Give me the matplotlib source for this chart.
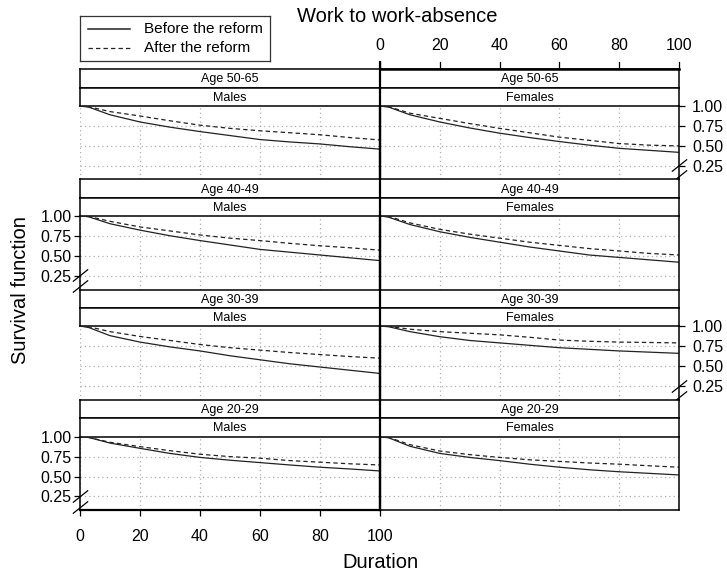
import matplotlib
matplotlib.use("Agg")
import matplotlib.pyplot as plt
from matplotlib.path import Path

plt.rcParams['font.family'] = ['Liberation Sans', 'DejaVu Sans']

# ---------------- data ----------------
durations = [0, 3, 10, 20, 30, 40, 50, 60, 70, 80, 90, 100]
age_groups = ["Age 50-65", "Age 40-49", "Age 30-39", "Age 20-29"]
sexes = ["Males", "Females"]
legend_labels = ["Before the reform", "After the reform"]
y_ticks = [0.25, 0.50, 0.75, 1.00]
x_ticks = [0, 20, 40, 60, 80, 100]

m5065_before = [1.00, 0.985, 0.89, 0.80, 0.735, 0.68, 0.63, 0.58, 0.55, 0.525, 0.49, 0.46]
m5065_after  = [1.00, 0.99, 0.93, 0.875, 0.815, 0.76, 0.72, 0.69, 0.665, 0.64, 0.605, 0.575]
f5065_before = [1.00, 0.985, 0.89, 0.80, 0.725, 0.66, 0.605, 0.555, 0.51, 0.47, 0.445, 0.42]
f5065_after  = [1.00, 0.99, 0.91, 0.845, 0.78, 0.72, 0.665, 0.61, 0.57, 0.53, 0.51, 0.50]
m4049_before = [1.00, 0.985, 0.90, 0.82, 0.75, 0.69, 0.635, 0.58, 0.545, 0.51, 0.475, 0.44]
m4049_after  = [1.00, 0.99, 0.93, 0.86, 0.81, 0.76, 0.72, 0.69, 0.655, 0.625, 0.60, 0.57]
f4049_before = [1.00, 0.98, 0.89, 0.80, 0.73, 0.67, 0.61, 0.56, 0.51, 0.48, 0.45, 0.42]
f4049_after  = [1.00, 0.99, 0.91, 0.83, 0.77, 0.72, 0.67, 0.63, 0.59, 0.56, 0.53, 0.51]
m3039_before = [1.00, 0.98, 0.88, 0.80, 0.74, 0.69, 0.63, 0.58, 0.53, 0.49, 0.45, 0.41]
m3039_after  = [1.00, 0.99, 0.93, 0.87, 0.82, 0.77, 0.73, 0.70, 0.67, 0.645, 0.62, 0.60]
f3039_before = [1.00, 0.99, 0.93, 0.867, 0.82, 0.79, 0.76, 0.73, 0.71, 0.69, 0.675, 0.66]
f3039_after  = [1.00, 0.995, 0.96, 0.93, 0.91, 0.89, 0.86, 0.825, 0.81, 0.80, 0.795, 0.79]
m2029_before = [1.00, 0.99, 0.92, 0.854, 0.79, 0.74, 0.705, 0.675, 0.645, 0.617, 0.595, 0.57]
m2029_after  = [1.00, 0.99, 0.93, 0.875, 0.825, 0.78, 0.75, 0.73, 0.70, 0.68, 0.66, 0.645]
f2029_before = [1.00, 0.985, 0.88, 0.79, 0.74, 0.70, 0.655, 0.617, 0.585, 0.56, 0.54, 0.52]
f2029_after  = [1.00, 0.99, 0.90, 0.82, 0.775, 0.74, 0.71, 0.69, 0.67, 0.655, 0.635, 0.617]

panel_data = [
    [(m5065_before, m5065_after), (f5065_before, f5065_after)],
    [(m4049_before, m4049_after), (f4049_before, f4049_after)],
    [(m3039_before, m3039_after), (f3039_before, f3039_after)],
    [(m2029_before, m2029_after), (f2029_before, f2029_after)],
]

# ---------------- layout (pixels) ----------------
W, H = 727, 574
fig = plt.figure(figsize=(W / 100, H / 100), dpi=100)

def px_axes(x0, y0, x1, y1):
    return fig.add_axes([x0 / W, 1 - y1 / H, (x1 - x0) / W, (y1 - y0) / H])

col_x = [(80, 380), (380, 679)]
strip_top = [69, 179.5, 289.5, 400]
strip_mid = [87.5, 197.7, 307.7, 418]
plot_top = [106, 215.7, 326, 436.7]
plot_bot = [179.5, 289.5, 400, 510]

TICK_FS = 11.5
STRIP_FS = 9
TITLE_FS = 14.5

YLIM = (0.08, 1.0)
grid_kw = dict(color='#b0b0b0', linestyle=(0, (1, 2.5)), linewidth=0.9)
brk = Path([(-1, -0.8), (1, 0.8)], [Path.MOVETO, Path.LINETO])

def strip(x0, x1, y0, y1, label):
    a = px_axes(x0, y0, x1, y1)
    a.set_xticks([]); a.set_yticks([])
    a.set_facecolor('white')
    for s in a.spines.values():
        s.set_linewidth(1.1)
        s.set_color('black')
    a.text(0.5, 0.45, label, ha='center', va='center', fontsize=STRIP_FS, transform=a.transAxes)
    return a

for r in range(4):
    for c in range(2):
        x0, x1 = col_x[c]
        strip(x0, x1, strip_top[r], strip_mid[r], age_groups[r])
        strip(x0, x1, strip_mid[r], plot_top[r], sexes[c])

        ax = px_axes(x0, plot_top[r], x1, plot_bot[r])
        ax.set_xlim(0, 100)
        ax.set_ylim(*YLIM)
        ax.set_facecolor('none')
        for xv in [0, 20, 40, 60, 80, 100]:
            ax.axvline(xv, **grid_kw, zorder=0)
        for yv in [0.25, 0.5, 0.75]:
            ax.axhline(yv, **grid_kw, zorder=0)

        before, after = panel_data[r][c]
        ax.plot(durations, before, color='#222222', lw=0.9, solid_joinstyle='round')
        ax.plot(durations, after, color='#222222', lw=0.9, linestyle=(0, (3.5, 2.5)))

        for s in ax.spines.values():
            s.set_linewidth(1.1)
            s.set_color('black')
        ax.spines['top'].set_visible(False)
        ax.spines['bottom'].set_visible(r == 3)
        ax.spines['bottom'].set_linewidth(1.6 if c == 0 else 1.1)

        has_y_left = (c == 0 and r in (1, 3))
        has_y_right = (c == 1 and r in (0, 2))
        ax.spines['left'].set_visible(c == 1 or has_y_left)
        ax.spines['left'].set_linewidth(1.6 if c == 1 else 1.1)
        ax.spines['right'].set_visible(c == 0 or has_y_right or r in (1, 3))

        ax.tick_params(axis='both', direction='out', length=4.5, width=0.9,
                       labelsize=TICK_FS, colors='black')
        # y axis
        if has_y_left or has_y_right:
            ax.set_yticks(y_ticks)
            ax.set_yticklabels([f"{v:.2f}" for v in y_ticks])
            if has_y_right:
                ax.yaxis.tick_right()
                ax.tick_params(axis='y', pad=5)
                xb = 1.0
            else:
                ax.tick_params(axis='y', pad=1.5)
                xb = 0.0
            for yb in (0.26, 0.12):
                ax.plot([xb], [yb], marker=brk, markersize=11, mew=0.9, color='black',
                        transform=ax.get_yaxis_transform(), clip_on=False, zorder=5)
        else:
            ax.set_yticks([])
        # x axis
        if r == 3 and c == 0:
            ax.set_xticks(x_ticks)
            ax.tick_params(axis='x', pad=9)
        elif r == 0 and c == 1:
            ax.set_xticks([])
            for xv in x_ticks:
                xp = x0 + (x1 - x0) * xv / 100
                fig.add_artist(plt.Line2D([xp / W, xp / W], [1 - 69 / H, 1 - 62 / H],
                                          color='black', lw=0.9))
                fig.text(xp / W, 1 - 45 / H, str(xv), ha='center', va='center', fontsize=TICK_FS)
        else:
            ax.set_xticks([])

# top border line thicker for right strip
fig.add_artist(plt.Line2D([380 / W, 679 / W], [1 - 69 / H, 1 - 69 / H], color='black', lw=1.8))
# middle separator
fig.add_artist(plt.Line2D([380 / W, 380 / W], [1 - 62 / H, 1 - 510 / H], color='black', lw=1.6))

# titles
fig.text(397 / W, 1 - 17 / H, "Work to work-absence", ha='center', va='center', fontsize=TITLE_FS)
fig.text(380 / W, 1 - 562 / H, "Duration", ha='center', va='center', fontsize=TITLE_FS)
fig.text(21 / W, 1 - 290 / H, "Survival function", ha='center', va='center',
         rotation=90, fontsize=TITLE_FS)

# legend
lg = px_axes(80, 16, 270, 61)
lg.set_xlim(80, 270); lg.set_ylim(61, 16)
lg.set_xticks([]); lg.set_yticks([])
for s in lg.spines.values():
    s.set_linewidth(0.9)
    s.set_color('#333333')
lg.plot([88, 130], [29, 29], color='#222222', lw=1.1)
lg.plot([88, 130], [48, 48], color='#222222', lw=0.9, linestyle=(0, (3.5, 2.5)))
lg.text(144, 29, legend_labels[0], ha='left', va='center', fontsize=11)
lg.text(144, 48, legend_labels[1], ha='left', va='center', fontsize=11)

fig.savefig("out.png", dpi=100)
